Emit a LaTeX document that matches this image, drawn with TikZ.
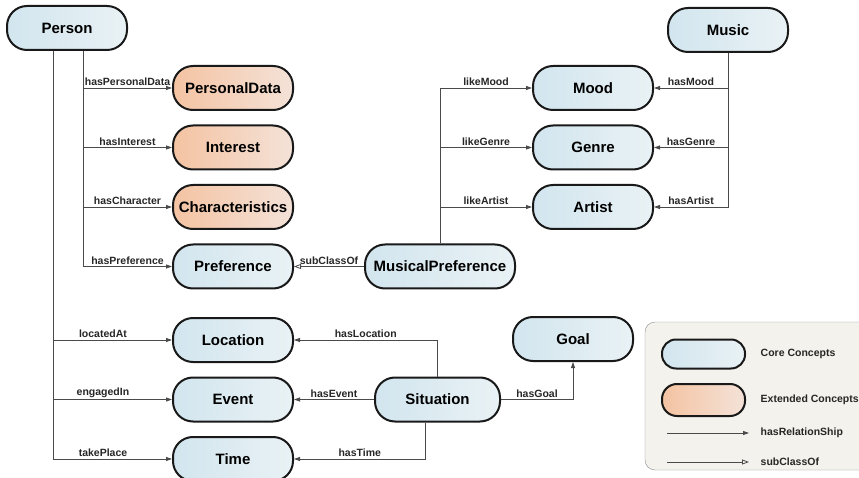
\documentclass[tikz,border=0pt]{standalone}
\usepackage{fontspec}
\setmainfont{Liberation Sans}
\usepackage{tikz}
\usetikzlibrary{arrows.meta,positioning}

\definecolor{coreL}{HTML}{D2E5EE}
\definecolor{coreR}{HTML}{E9F2F5}
\definecolor{extL}{HTML}{F4C3A2}
\definecolor{extR}{HTML}{F4E2D8}
\definecolor{wire}{HTML}{4A4A4A}
\definecolor{legendbg}{HTML}{F3F2EC}

\begin{document}
\begin{tikzpicture}[
  x=1pt,y=-1pt,
  node distance=13.5pt and 70pt,
  box/.style={draw=black!90,line width=2pt,rounded corners=20pt,minimum width=120pt,minimum height=44pt,
    inner sep=4pt,font=\bfseries\fontsize{15}{18}\selectfont},
  core/.style={box,left color=coreL,right color=coreR},
  ext/.style={box,left color=extL,right color=extR},
  arr/.style={-{Triangle[length=6pt,width=4pt]},draw=wire,line width=0.8pt},
  sub/.style={-{Triangle[open,length=7pt,width=5pt]},draw=wire,line width=0.8pt},
  lab/.style={font=\bfseries\fontsize{10.5}{12}\selectfont,text=black!85,inner sep=1.5pt}
]
\useasboundingbox (0,0) rectangle (859,478);

\node[core] (person) at (67,28) {Person};
\node[ext] (pdata) at (233,88) {PersonalData};
\node[ext,below=of pdata] (interest) {Interest};
\node[ext,below=of interest] (charac) {Characteristics};
\node[core,below=of charac] (pref) {Preference};
\node[core,below=27.5pt of pref] (location) {Location};
\node[core,below=of location] (event) {Event};
\node[core,below=of event] (time) {Time};

\node[core,right=of pref,minimum width=150pt] (muspref) {MusicalPreference};
\node[core] (mood) at (593,88) {Mood};
\node[core,below=of mood] (genre) {Genre};
\node[core,below=of genre] (artist) {Artist};
\node[core] (music) at (728,30) {Music};

\node[core,right=80pt of event,minimum width=125pt] (situation) {Situation};
\node[core] (goal) at (573,339) {Goal};

\draw[arr] ([xshift=16pt]person.south) |- node[lab,above,pos=0.75]{hasPersonalData} (pdata);
\draw[arr] ([xshift=16pt]person.south) |- node[lab,above,pos=0.75]{hasInterest} (interest);
\draw[arr] ([xshift=16pt]person.south) |- node[lab,above,pos=0.75]{hasCharacter} (charac);
\draw[arr] ([xshift=16pt]person.south) |- node[lab,above,pos=0.75]{hasPreference} (pref);
\draw[arr] ([xshift=-14pt]person.south) |- node[lab,above,pos=0.71]{locatedAt} (location);
\draw[arr] ([xshift=-14pt]person.south) |- node[lab,above,pos=0.71]{engagedIn} (event);
\draw[arr] ([xshift=-14pt]person.south) |- node[lab,above,pos=0.71]{takePlace} (time);

\draw[sub] (muspref) -- node[lab,above]{subClassOf} (pref);
\draw[arr] (muspref.north) |- node[lab,above,pos=0.75]{likeMood} (mood);
\draw[arr] (muspref.north) |- node[lab,above,pos=0.75]{likeGenre} (genre);
\draw[arr] (muspref.north) |- node[lab,above,pos=0.75]{likeArtist} (artist);
\draw[arr] (music.south) |- node[lab,above,pos=0.75]{hasMood} (mood);
\draw[arr] (music.south) |- node[lab,above,pos=0.75]{hasGenre} (genre);
\draw[arr] (music.south) |- node[lab,above,pos=0.75]{hasArtist} (artist);

\draw[arr] (situation.north) |- node[lab,above,pos=0.75]{hasLocation} (location);
\draw[arr] (situation) -- node[lab,above]{hasEvent} (event);
\draw[arr] ([xshift=-12pt]situation.south) |- node[lab,above,pos=0.75]{hasTime} (time);
\draw[arr] (situation) -| node[lab,above,pos=0.25]{hasGoal} (goal);

\node[draw=black!45,fill=legendbg,rounded corners=10pt,minimum width=225pt,minimum height=148pt] (legend) at (757.5,396) {};
\node[core,rounded corners=14pt,minimum width=83pt,minimum height=29pt] (lcore) at (703.5,354) {};
\node[ext,rounded corners=15pt,minimum width=83pt,minimum height=32pt] (lext) at (703.5,400) {};
\node[lab,anchor=west] (lcoret) at (759,354) {Core Concepts};
\node[lab,anchor=west] (lextt) at (759,400) {Extended Concepts};
\node[lab,anchor=west] (lrel) at (759,433) {hasRelationShip};
\node[lab,anchor=west] (lsub) at (759,462) {subClassOf};
\coordinate (lrela) at (667,433);
\coordinate (lsuba) at (667,462);
\draw[arr] (lrela) -- ([xshift=-10pt]lrel.west);
\draw[sub] (lsuba) -- ([xshift=-10pt]lsub.west);
\end{tikzpicture}
\end{document}
